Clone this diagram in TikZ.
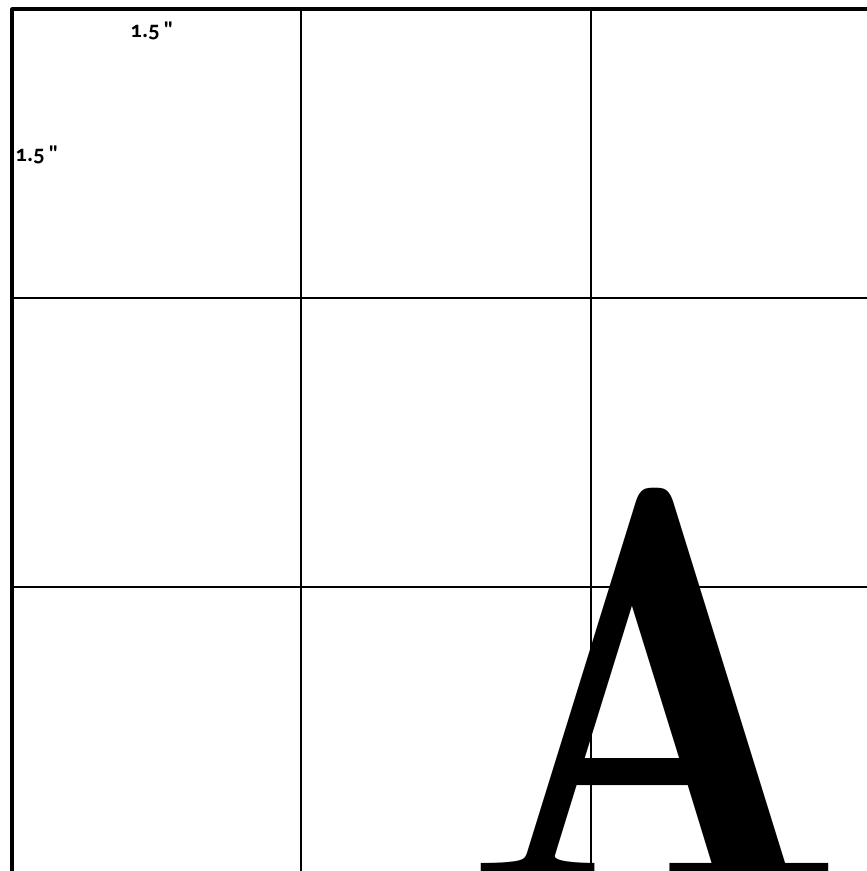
\documentclass[tikz,border=0pt]{standalone}
\usepackage{fontspec}
\newfontfamily\labelfont[Numbers=OldStyle]{Carlito}
\newfontfamily\letterfont{Latin Modern Roman Demi}
\begin{document}
\begin{tikzpicture}[line join=round, line cap=butt, gridline/.style={line width=0.6pt}, sizelabel/.style={inner sep=0pt, font=\labelfont\bfseries\fontsize{6.5}{7}\selectfont}] %Luoi 3x3 va chu A
	\useasboundingbox (0,0) rectangle (8.67,8.71);
	\clip (0,0) rectangle (8.67,8.71);
	\draw[line width=0.9pt] (0.12,0)--(0.12,8.62)--(8.67,8.62);
	\draw[gridline] (3.01,0)--(3.01,8.62);
	\draw[gridline] (5.91,0)--(5.91,8.62);
	\draw[gridline] (0.12,5.73)--(8.67,5.73);
	\draw[gridline] (0.12,2.84)--(8.67,2.84);
	\node[sizelabel] (lbltop) at (1.52,8.40) {1.5\,"};
	\node[sizelabel] (lblleft) at (0.37,7.16) {1.5\,"};
	\node[inner sep=0pt, anchor=base, xscale=0.88] (bigA) at (6.555,-0.20) {\letterfont\fontsize{164}{164}\selectfont A};
\end{tikzpicture}
\end{document}
